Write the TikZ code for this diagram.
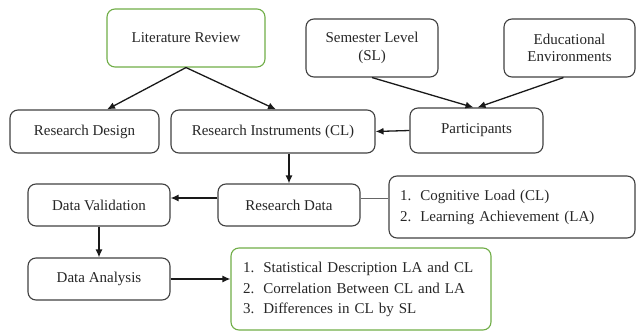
\documentclass[tikz,border=0pt]{standalone}
\usepackage{fontspec}
\setmainfont{Liberation Serif}
\usetikzlibrary{calc,arrows.meta}
\definecolor{boxgreen}{RGB}{112,173,71}
\begin{document}
\begin{tikzpicture}
        [x=1pt, y=-1pt, >={Latex[length=8pt,width=7pt]},
        every node/.style={font=\fontsize{15}{20.5}\selectfont, text=black!85},
        box/.style={draw=black!75, line width=1.1pt, rounded corners=8pt, inner sep=0pt, align=center},
        greenbox/.style={box, draw=boxgreen},
        listbox/.style={box, align=left, inner xsep=11pt},
        link/.style={->, draw=black!90, line width=1.3pt},
        ]
        \useasboundingbox (0,0) rectangle (636,331);
        % top row
        \node[greenbox, minimum width=158pt, minimum height=58pt] (lr) at (186,38) {Literature Review};
        \node[box, minimum width=132pt, minimum height=58pt] (sl) at (372,48) {Semester Level\\[-3pt](SL)};
        \node[box, minimum width=131pt, minimum height=58pt] (ee) at (569.5,48) {Educational\\[-3pt]Environments};
        % second row
        \node[box, minimum width=149pt, minimum height=43pt] (rd) at (84.5,131.5) {Research Design};
        \node[box, minimum width=204pt, minimum height=43pt] (ri) at (273,131.5) {Research Instruments (CL)};
        \node[box, minimum width=133pt, minimum height=45pt] (pa) at (476.5,130.5) {Participants};
        % data
        \node[box, minimum width=142pt, minimum height=42pt] (rdata) at (289,205) {Research Data};
        \node[box, minimum width=142pt, minimum height=42pt] (dv) at (99,205) {Data Validation};
        \node[box, minimum width=142pt, minimum height=42pt] (da) at (99,279) {Data Analysis};
        \node[listbox, text width=224pt, minimum height=62pt] (vars) at (512,207)
          {\begin{tabular}{@{}l@{\hspace{9pt}}l@{}}
            1. & Cognitive Load (CL)\\
            2. & Learning Achievement (LA)
          \end{tabular}};
        \node[listbox, draw=boxgreen, inner xsep=12pt, text width=236pt, minimum height=82pt] (res) at (361,289)
          {\begin{tabular}{@{}l@{\hspace{9pt}}l@{}}
            1. & Statistical Description LA and CL\\
            2. & Correlation Between CL and LA\\
            3. & Differences in CL by SL
          \end{tabular}};

        \draw[link] (lr.south) -- ($(rd.north)!0.3!(rd.north east)$);
        \draw[link] (lr.south) -- ([xshift=3pt]ri.north);
        \draw[link] (sl.south) -- ([xshift=-3pt]pa.north);
        \draw[link] ([xshift=-6pt]ee.south) -- ([xshift=1pt]pa.north);
        \draw[link] (pa.west) -- (ri.east);
        \draw[link] (rdata.north |- ri.south) -- (rdata.north);
        \draw[link] ([yshift=7pt]rdata.west) -- ([yshift=7pt]rdata.west -| dv.east);
        \draw[draw=black!60, line width=0.8pt] ([yshift=7pt]rdata.east) -- ([yshift=7pt]rdata.east -| vars.west);
        \draw[link] (dv.south) -- (da.north);
        \draw[link] (da.east) -- (da.east -| res.west);
\end{tikzpicture}
\end{document}
